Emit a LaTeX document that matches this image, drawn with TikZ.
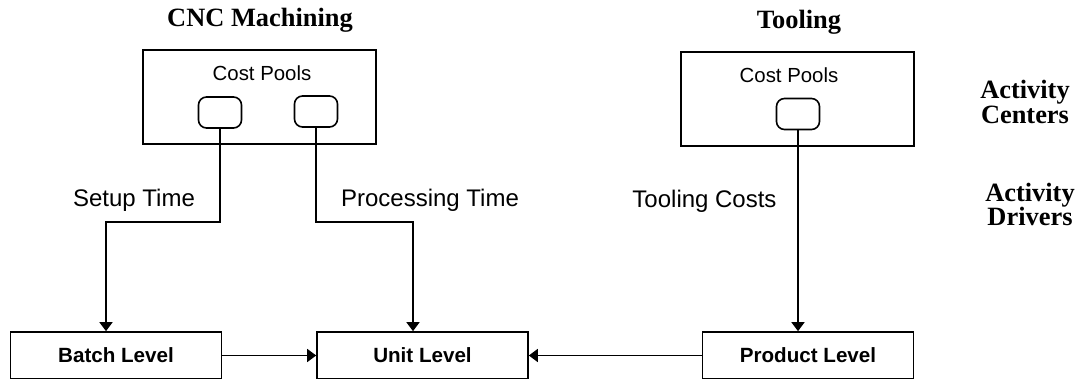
\documentclass[tikz,border=0pt]{standalone}
\usepackage{fontspec}
\setmainfont{Liberation Serif}
\setsansfont{Liberation Sans}
\usetikzlibrary{arrows.meta}

\begin{document}
\begin{tikzpicture}[x=0.5pt,y=-0.5pt,line width=0.8pt,
    >={Triangle[width=6.5pt,length=4.5pt]},
    centerbox/.style={draw,minimum width=116.5pt,minimum height=47pt,inner sep=0pt},
    poolbox/.style={draw,rounded corners=4pt,minimum width=21.5pt,minimum height=15.5pt,inner sep=0pt},
    levelbox/.style={draw,minimum width=105.5pt,minimum height=23.5pt,inner sep=0pt,
        font=\sffamily\bfseries\fontsize{10.3}{12}\selectfont},
    poollabel/.style={font=\sffamily\fontsize{10.2}{12}\selectfont,inner sep=0pt},
    drvlabel/.style={font=\sffamily\fontsize{12}{14}\selectfont,anchor=base,inner sep=0pt},
    headlabel/.style={font=\bfseries\fontsize{13.2}{12.3}\selectfont,align=center,inner sep=0pt}]

\useasboundingbox (0,0) rectangle (1083,379);

% activity centers
\node[headlabel,anchor=base] (cnctitle) at (260,27) {CNC Machining};
\node[headlabel,anchor=base] (tooltitle) at (799,29) {Tooling};

\node[centerbox] (cnc) at (259.5,97) {};
\node[centerbox] (tool) at (797.5,99) {};

\node[poollabel] (cnccost) at (262,73) {Cost Pools};
\node[poollabel] (toolcost) at (789,75) {Cost Pools};

\node[poolbox] (setup) at (220,112.5) {};
\node[poolbox] (proc) at (316,111.5) {};
\node[poolbox] (tpool) at (798,114) {};

\node[headlabel] (centers) at (1025,102) {Activity\\Centers};
\node[headlabel] (drivers) at (1030,204.5) {Activity\\Drivers};

% activity drivers
\node[drvlabel] (setuptime) at (134,207) {Setup Time};
\node[drvlabel] (proctime) at (430,207) {Processing Time};
\node[drvlabel] (toolcosts) at (704.5,208) {Tooling Costs};

% cost objects
\node[levelbox] (batch) at (116,355.5) {Batch Level};
\node[levelbox] (unit) at (422.5,355.5) {Unit Level};
\node[levelbox] (product) at (808,355.5) {Product Level};

\coordinate (sbend) at (106,222);
\coordinate (pbend) at (413,222);

\draw[->] (setup.south) |- (sbend) -- (sbend |- batch.north);
\draw[->] (proc.south) |- (pbend) -- (pbend |- unit.north);
\draw[->] (tpool.south) -- (tpool.south |- product.north);

\draw[->] (batch) -- (unit);
\draw[->] (product) -- (unit);

\end{tikzpicture}
\end{document}
